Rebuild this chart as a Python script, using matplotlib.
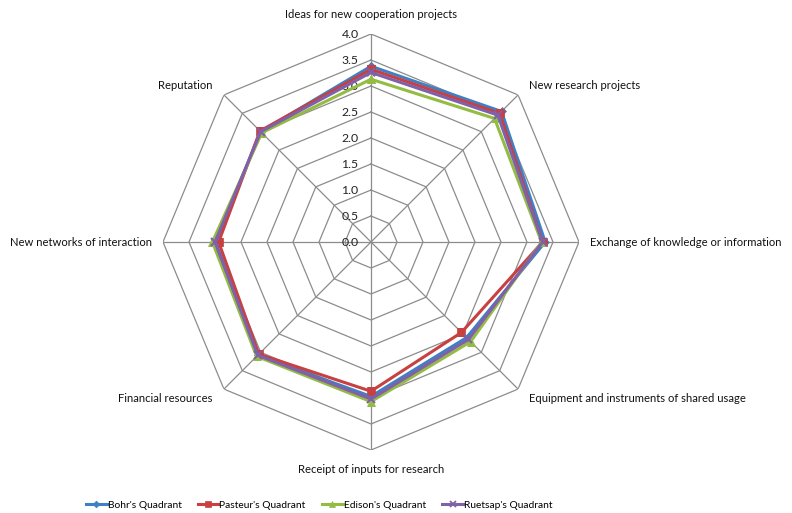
import numpy as np
import matplotlib
matplotlib.use("Agg")
import matplotlib.pyplot as plt
from matplotlib.lines import Line2D

categories = ["Ideas for new cooperation projects", "New research projects",
              "Exchange of knowledge or information", "Equipment and instruments of shared usage",
              "Receipt of inputs for research", "Financial resources",
              "New networks of interaction", "Reputation"]
series_names = ["Bohr's Quadrant", "Pasteur's Quadrant", "Edison's Quadrant", "Ruetsap's Quadrant"]
bohr = [3.38, 3.55, 3.35, 2.60, 2.97, 3.08, 2.99, 3.00]
pasteur = [3.32, 3.50, 3.30, 2.46, 2.87, 3.05, 2.93, 3.02]
edison = [3.13, 3.36, 3.28, 2.71, 3.07, 3.11, 3.05, 2.97]
ruetsap = [3.26, 3.45, 3.30, 2.65, 3.02, 3.08, 3.00, 3.00]
tick_values = [0.0, 0.5, 1.0, 1.5, 2.0, 2.5, 3.0, 3.5, 4.0]
tick_labels = ["0.0", "0.5", "1.0", "1.5", "2.0", "2.5", "3.0", "3.5", "4.0"]

colors = ["#3F80C4", "#C8403F", "#93BC42", "#8060A8"]
markers = ["D", "s", "^", "x"]
msizes = [4.0, 5.5, 5.8, 5.5]

plt.rcParams['font.family'] = ['Lato', 'DejaVu Sans']
FS = 8.1

fig = plt.figure(figsize=(7.92, 5.13), dpi=100)
W, H = 792, 513
cx, cy, R = 371, 242, 208
ax = fig.add_axes([(cx - R) / W, (H - cy - R) / H, 2 * R / W, 2 * R / H], projection="polar")
ax.set_theta_zero_location("N")
ax.set_theta_direction(-1)
ax.set_ylim(0, 4)
ax.grid(False)
ax.spines["polar"].set_visible(False)
ax.set_xticks([])
ax.set_yticks([])
ax.patch.set_alpha(0)

n = len(categories)
theta = np.arange(n) * 2 * np.pi / n
theta_c = np.append(theta, theta[0])

grid_col = "#8C8C8C"
for v in tick_values[1:]:
    ax.plot(theta_c, [v] * (n + 1), color=grid_col, lw=0.9, zorder=1)
for t in theta:
    ax.plot([t, t], [0, 4], color=grid_col, lw=0.9, zorder=1)

for v, lab in zip(tick_values, tick_labels):
    ax.annotate(lab, xy=(0, v), xytext=(-9, 0), textcoords="offset points",
                ha="right", va="center", fontsize=8.8, color="#222222")

data = [bohr, pasteur, edison, ruetsap]
for vals, c, m, ms, name in zip(data, colors, markers, msizes, series_names):
    vv = np.append(vals, vals[0])
    ax.plot(theta_c, vv, color=c, lw=2.2, marker=m, markersize=ms,
            markeredgewidth=1.5 if m == "x" else 0.5, markeredgecolor=c, label=name, zorder=3)

# category labels
offsets = [
    ((0, 10), "center", "bottom"),
    ((8, 3), "left", "bottom"),
    ((8, 0), "left", "center"),
    ((8, -3), "left", "top"),
    ((0, -10), "center", "top"),
    ((-8, -3), "right", "top"),
    ((-8, 0), "right", "center"),
    ((-8, 3), "right", "bottom"),
]
for t, lab, (off, ha, va) in zip(theta, categories, offsets):
    ax.annotate(lab, xy=(t, 4), xytext=off, textcoords="offset points",
                ha=ha, va=va, fontsize=FS, color="#111111", annotation_clip=False)

handles = [Line2D([0], [0], color=c, lw=2.2, marker=m, markersize=ms * 0.85,
                  markeredgewidth=1.3 if m == "x" else 0.5, markeredgecolor=c)
           for c, m, ms in zip(colors, markers, msizes)]
fig.legend(handles, series_names, loc="center", bbox_to_anchor=(0.403, 1 - 505 / H),
           ncol=4, frameon=False, fontsize=7.4, handlelength=2.0, handletextpad=0.1,
           columnspacing=1.6, borderaxespad=0, borderpad=0)

fig.savefig("out.png", dpi=100)
